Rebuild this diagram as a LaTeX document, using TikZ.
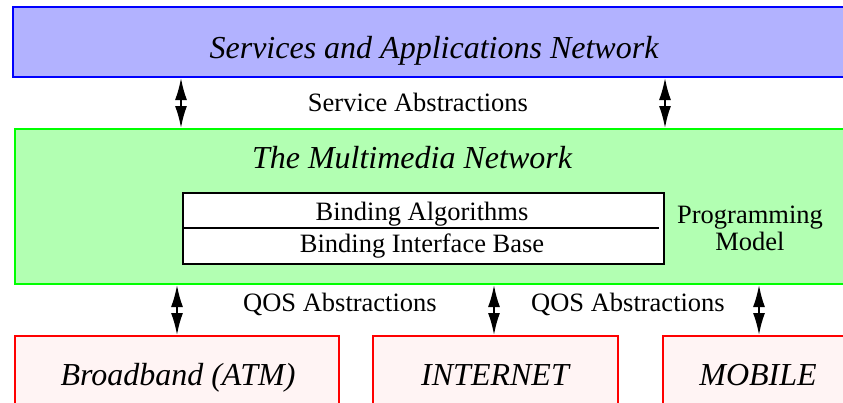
\documentclass[tikz,border=0pt]{standalone}
\usepackage{fontspec}
\setmainfont{Liberation Serif}
\usetikzlibrary{arrows.meta}
\definecolor{svcfill}{RGB}{178,178,255}
\definecolor{svcline}{RGB}{0,0,255}
\definecolor{mmfill}{RGB}{178,255,178}
\definecolor{mmline}{RGB}{0,255,0}
\definecolor{netfill}{RGB}{255,244,244}
\definecolor{netline}{RGB}{255,0,0}
\begin{document}
\begin{tikzpicture}[x=1pt,y=-1pt,
  layer/.style={draw, line width=2pt, anchor=north west, inner sep=0pt},
  ital/.style={font=\fontsize{32}{37}\selectfont\itshape, inner sep=0pt, anchor=base},
  plain/.style={font=\fontsize{26.5}{27}\selectfont, inner sep=0pt, anchor=base},
  link/.style={line width=1.8pt, {Latex[length=22pt,width=12pt]}-{Latex[length=22pt,width=12pt]}}]
\useasboundingbox (0,0) rectangle (843,402);
\clip (0,0) rectangle (843,402);

% layer boxes
\node[layer, fill=svcfill, draw=svcline, minimum width=840pt, minimum height=70pt] (san) at (12,6) {};
\node[layer, fill=mmfill, draw=mmline, minimum width=840pt, minimum height=155pt] (mm) at (14,128) {};
\node[layer, fill=netfill, draw=netline, minimum width=324pt, minimum height=80pt] (atm) at (14,335) {};
\node[layer, fill=netfill, draw=netline, minimum width=245pt, minimum height=80pt] (inet) at (372,335) {};
\node[layer, fill=netfill, draw=netline, minimum width=190pt, minimum height=80pt] (mob) at (662,335) {};

% binding box inside the multimedia network
\node[layer, fill=white, draw=black, minimum width=481pt, minimum height=71pt] (bind) at (182,192) {};
\coordinate (sepend) at (659,228);
\draw[line width=2pt] (bind.west |- sepend) -- (sepend);

% labels
\node[ital] (tsan) at (434,58) {Services and Applications Network};
\node[plain] (tsa) at (418,111) {Service Abstractions};
\node[ital] (tmm) at (412,168) {The Multimedia Network};
\node[plain] (tba) at (422,220) {Binding Algorithms};
\node[plain] (tbib) at (422,252) {Binding Interface Base};
\node[plain, anchor=center, align=center, font=\fontsize{26.5}{27}\selectfont] (tpm) at (750,228) {Programming\\Model};
\node[plain] (tq1) at (340,311) {QOS Abstractions};
\node[plain] (tq2) at (628,311) {QOS Abstractions};
\node[ital] (tatm) at (178,385) {Broadband (ATM)};
\node[ital] (tinet) at (495,385) {INTERNET};
\node[ital] (tmob) at (758,385) {MOBILE};

% connectors between layers
\draw[link] (181,0 |- san.south) -- (181,0 |- mm.north);
\draw[link] (665,0 |- san.south) -- (665,0 |- mm.north);
\draw[link] (177,0 |- mm.south) -- (177,0 |- atm.north);
\draw[link] (494,0 |- mm.south) -- (494,0 |- inet.north);
\draw[link] (759,0 |- mm.south) -- (759,0 |- mob.north);
\end{tikzpicture}
\end{document}
